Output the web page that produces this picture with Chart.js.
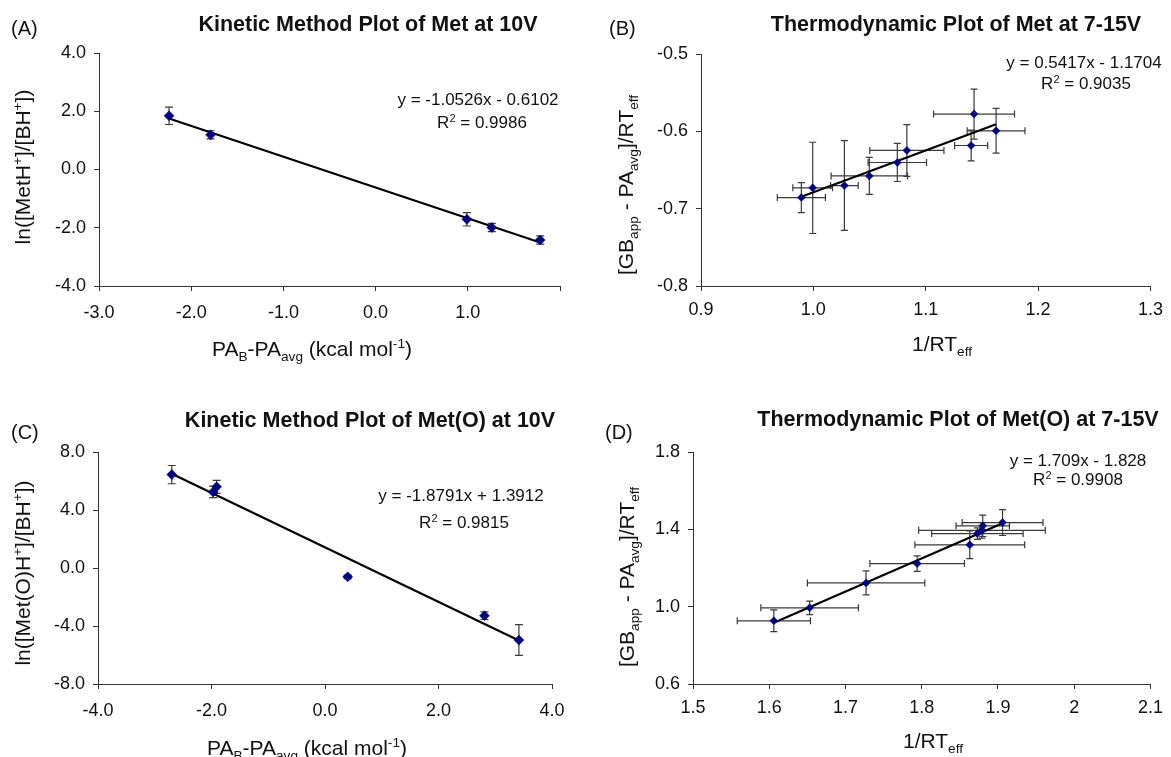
<!DOCTYPE html>
<html><head><meta charset="utf-8">
<script src="https://cdn.jsdelivr.net/npm/chart.js@4.4.1/dist/chart.umd.min.js"></script>
<style>
html,body{margin:0;padding:0;background:#fff;}
#wrap{position:relative;width:1171px;height:757px;overflow:hidden;}
.p{position:absolute;}
</style></head><body>
<div id="wrap">
<div class="p" style="left:0;top:0;width:590px;height:380px"><canvas id="cA"></canvas></div>
<div class="p" style="left:590px;top:0;width:581px;height:380px"><canvas id="cB"></canvas></div>
<div class="p" style="left:0;top:380px;width:590px;height:377px"><canvas id="cC"></canvas></div>
<div class="p" style="left:590px;top:380px;width:581px;height:377px"><canvas id="cD"></canvas></div>
</div>
<script>
// ---------- Panel A: Kinetic Method Plot of Met at 10V ----------
const aX    = [-2.24, -1.79, 0.99, 1.26, 1.785];
const aY    = [1.845, 1.19, -1.71, -1.99, -2.42];
const aYErr = [0.30, 0.14, 0.23, 0.14, 0.14];
const aXTickVals = [-3, -2, -1, 0, 1, 2];
const aXTickLabels = ['-3.0', '-2.0', '-1.0', '0.0', '1.0', ''];
const aYTickVals = [-4, -2, 0, 2, 4];
const aYTickLabels = ['-4.0', '-2.0', '0.0', '2.0', '4.0'];

// ---------- Panel B: Thermodynamic Plot of Met at 7-15V ----------
const bX    = [0.9893, 0.9994, 1.0276, 1.0498, 1.0747, 1.0832, 1.1404, 1.1430, 1.1626];
const bY    = [-0.6856, -0.6731, -0.6701, -0.6576, -0.6403, -0.6247, -0.6183, -0.5777, -0.5993];
const bXErr = [0.0214, 0.0177, 0.0123, 0.034, 0.026, 0.033, 0.0147, 0.036, 0.0257];
const bYErr = [0.0194, 0.059, 0.058, 0.024, 0.0246, 0.0335, 0.020, 0.0324, 0.029];
const bXTickVals = [0.9, 1.0, 1.1, 1.2, 1.3];
const bXTickLabels = ['0.9', '1.0', '1.1', '1.2', '1.3'];
const bYTickVals = [-0.8, -0.7, -0.6, -0.5];
const bYTickLabels = ['-0.8', '-0.7', '-0.6', '-0.5'];

// ---------- Panel C: Kinetic Method Plot of Met(O) at 10V ----------
const cX    = [-2.70, -1.97, -1.91, 0.40, 2.81, 3.417];
const cY    = [6.44, 5.25, 5.60, -0.61, -3.29, -4.97];
const cYErr = [0.63, 0.40, 0.45, 0.12, 0.26, 1.06];
const cXTickVals = [-4, -2, 0, 2, 4];
const cXTickLabels = ['-4.0', '-2.0', '0.0', '2.0', '4.0'];
const cYTickVals = [-8, -4, 0, 4, 8];
const cYTickLabels = ['-8.0', '-4.0', '0.0', '4.0', '8.0'];

// ---------- Panel D: Thermodynamic Plot of Met(O) at 7-15V ----------
const dX    = [1.606, 1.653, 1.727, 1.794, 1.863, 1.873, 1.879, 1.880, 1.906];
const dY    = [0.927, 0.994, 1.123, 1.223, 1.320, 1.378, 1.395, 1.418, 1.435];
const dXErr = [0.048, 0.064, 0.077, 0.062, 0.072, 0.060, 0.083, 0.035, 0.053];
const dYErr = [0.056, 0.035, 0.062, 0.040, 0.072, 0.030, 0.040, 0.055, 0.067];
const dXTickVals = [1.5, 1.6, 1.7, 1.8, 1.9, 2.0, 2.1];
const dXTickLabels = ['1.5', '1.6', '1.7', '1.8', '1.9', '2', '2.1'];
const dYTickVals = [0.6, 1.0, 1.4, 1.8];
const dYTickLabels = ['0.6', '1.0', '1.4', '1.8'];

const FAM = '"Liberation Sans", Arial, Helvetica, sans-serif';
const TXT = '#111';

function fitLine(xs, ys) {
  const n = xs.length;
  const mx = xs.reduce((a, b) => a + b, 0) / n;
  const my = ys.reduce((a, b) => a + b, 0) / n;
  let sxy = 0, sxx = 0;
  for (let i = 0; i < n; i++) { sxy += (xs[i] - mx) * (ys[i] - my); sxx += (xs[i] - mx) ** 2; }
  const m = sxy / sxx, b = my - m * mx;
  const x0 = Math.min(...xs), x1 = Math.max(...xs);
  return [{x: x0, y: m * x0 + b}, {x: x1, y: m * x1 + b}];
}

function drawRich(ctx, segs, cx, cy, size, opts) {
  opts = opts || {};
  const weight = opts.bold ? 'bold ' : '';
  ctx.save();
  ctx.translate(cx, cy);
  if (opts.rot) ctx.rotate(-Math.PI / 2);
  let w = 0;
  for (const s of segs) {
    ctx.font = weight + (s.s ? size * 0.65 : size) + 'px ' + FAM;
    w += ctx.measureText(s.t).width;
  }
  let x = opts.left ? 0 : -w / 2;
  ctx.textBaseline = 'alphabetic';
  ctx.textAlign = 'left';
  ctx.fillStyle = TXT;
  const base = size * 0.36;
  for (const s of segs) {
    ctx.font = weight + (s.s ? size * 0.65 : size) + 'px ' + FAM;
    const dy = s.s === 'sub' ? size * 0.28 : (s.s === 'sup' ? -size * 0.38 : 0);
    ctx.fillText(s.t, x, base + dy);
    x += ctx.measureText(s.t).width;
  }
  ctx.restore();
}

function makePanel(p) {
  const H = p.h;
  const xAxisH = 40;
  const plugin = {
    id: 'deco' + p.id,
    beforeDatasetsDraw(chart) {
      const ctx = chart.ctx, xs = chart.scales.x, ys = chart.scales.y;
      ctx.save();
      ctx.strokeStyle = '#3a3a3a';
      ctx.lineWidth = 1.2;
      const cap = p.cap;
      for (let i = 0; i < p.x.length; i++) {
        const px = xs.getPixelForValue(p.x[i]);
        const py = ys.getPixelForValue(p.y[i]);
        ctx.beginPath();
        if (p.yErr) {
          const y1 = ys.getPixelForValue(p.y[i] + p.yErr[i]);
          const y2 = ys.getPixelForValue(p.y[i] - p.yErr[i]);
          ctx.moveTo(px, y1); ctx.lineTo(px, y2);
          ctx.moveTo(px - cap, y1); ctx.lineTo(px + cap, y1);
          ctx.moveTo(px - cap, y2); ctx.lineTo(px + cap, y2);
        }
        if (p.xErr) {
          const x1 = xs.getPixelForValue(p.x[i] - p.xErr[i]);
          const x2 = xs.getPixelForValue(p.x[i] + p.xErr[i]);
          ctx.moveTo(x1, py); ctx.lineTo(x2, py);
          ctx.moveTo(x1, py - cap); ctx.lineTo(x1, py + cap);
          ctx.moveTo(x2, py - cap); ctx.lineTo(x2, py + cap);
        }
        ctx.stroke();
      }
      ctx.restore();
    },
    afterDraw(chart) {
      const ctx = chart.ctx;
      const t = p.text;
      drawRich(ctx, [{t: t.letter}], t.letterX, t.letterY, 20, {left: true});
      drawRich(ctx, [{t: t.title}], t.titleX, t.titleY, 21.5, {bold: true});
      drawRich(ctx, [{t: t.eq}], t.eqX, t.eqY, 17);
      drawRich(ctx, [{t: 'R'}, {t: '2', s: 'sup'}, {t: ' = ' + t.r2}], t.r2X, t.r2Y, 17);
      drawRich(ctx, t.yTitle, t.yTitleX, t.yTitleY, 21, {rot: true});
      drawRich(ctx, t.xTitle, t.xTitleX, t.xTitleY, 21);
    }
  };
  const axisCommon = (vals, labels, pad) => ({
    type: 'linear',
    min: vals[0], max: vals[vals.length - 1],
    afterBuildTicks: s => { s.ticks = vals.map(v => ({value: v})); },
    ticks: {
      callback: (v, i) => labels[i],
      font: {family: FAM, size: 18}, color: TXT,
      padding: pad, maxRotation: 0, autoSkip: false
    },
    grid: {display: true, drawOnChartArea: false, drawTicks: true, tickLength: 5, color: '#333', lineWidth: 1},
    border: {display: true, color: '#333', width: 1}
  });
  const xAxis = axisCommon(p.xTicks, p.xLabels, p.xPad);
  xAxis.afterFit = s => { s.height = xAxisH; };
  const yAxis = axisCommon(p.yTicks, p.yLabels, 8);
  yAxis.afterFit = s => { s.width = p.area.l; };
  return new Chart(document.getElementById(p.id), {
    type: 'scatter',
    data: {
      datasets: [
        {
          data: p.x.map((v, i) => ({x: v, y: p.y[i]})),
          pointStyle: 'rectRot', pointRadius: p.r, pointHoverRadius: p.r,
          backgroundColor: '#000080', borderColor: '#000080', borderWidth: 0.5,
          showLine: false, order: 0, clip: false
        },
        {
          data: fitLine(p.x, p.y),
          showLine: true, pointRadius: 0, borderColor: '#000', borderWidth: 2.2,
          order: 1, clip: false
        }
      ]
    },
    options: {
      responsive: true, maintainAspectRatio: false, animation: false, events: [],
      layout: {padding: {left: 0, top: p.area.t, right: p.w - p.area.r, bottom: H - p.area.b - xAxisH}},
      plugins: {legend: {display: false}, tooltip: {enabled: false}, title: {display: false}},
      scales: {x: xAxis, y: yAxis}
    },
    plugins: [plugin]
  });
}

const kinX = [{t: 'PA'}, {t: 'B', s: 'sub'}, {t: '-PA'}, {t: 'avg', s: 'sub'}, {t: ' (kcal mol'}, {t: '-1', s: 'sup'}, {t: ')'}];
const thermoY = [{t: '[GB'}, {t: 'app', s: 'sub'}, {t: ' - PA'}, {t: 'avg', s: 'sub'}, {t: ']/RT'}, {t: 'eff', s: 'sub'}];
const thermoX = [{t: '1/RT'}, {t: 'eff', s: 'sub'}];

makePanel({
  id: 'cA', w: 590, h: 380, area: {l: 99, r: 560, t: 53, b: 286}, xPad: 11, r: 5, cap: 4,
  x: aX, y: aY, yErr: aYErr, xErr: null,
  xTicks: aXTickVals, xLabels: aXTickLabels, yTicks: aYTickVals, yLabels: aYTickLabels,
  text: {
    letter: '(A)', letterX: 11, letterY: 28,
    title: 'Kinetic Method Plot of Met at 10V', titleX: 368, titleY: 23,
    eq: 'y = -1.0526x - 0.6102', eqX: 478, eqY: 99, r2: '0.9986', r2X: 482, r2Y: 122,
    yTitle: [{t: 'ln([MetH'}, {t: '+', s: 'sup'}, {t: ']/[BH'}, {t: '+', s: 'sup'}, {t: '])'}], yTitleX: 22, yTitleY: 167,
    xTitle: kinX, xTitleX: 312, xTitleY: 348
  }
});

makePanel({
  id: 'cB', w: 581, h: 380, area: {l: 111, r: 564, t: 54, b: 286}, xPad: 8, r: 4, cap: 3.5,
  x: bX, y: bY, yErr: bYErr, xErr: bXErr,
  xTicks: bXTickVals, xLabels: bXTickLabels, yTicks: bYTickVals, yLabels: bYTickLabels,
  text: {
    letter: '(B)', letterX: 19, letterY: 28,
    title: 'Thermodynamic Plot of Met at 7-15V', titleX: 366, titleY: 23,
    eq: 'y = 0.5417x - 1.1704', eqX: 494, eqY: 62, r2: '0.9035', r2X: 496, r2Y: 83,
    yTitle: thermoY, yTitleX: 35, yTitleY: 185,
    xTitle: thermoX, xTitleX: 352, xTitleY: 343
  }
});

makePanel({
  id: 'cC', w: 590, h: 377, area: {l: 98, r: 552, t: 72, b: 304}, xPad: 11, r: 5, cap: 4,
  x: cX, y: cY, yErr: cYErr, xErr: null,
  xTicks: cXTickVals, xLabels: cXTickLabels, yTicks: cYTickVals, yLabels: cYTickLabels,
  text: {
    letter: '(C)', letterX: 11, letterY: 52,
    title: 'Kinetic Method Plot of Met(O) at 10V', titleX: 370, titleY: 39,
    eq: 'y = -1.8791x + 1.3912', eqX: 461, eqY: 115, r2: '0.9815', r2X: 464, r2Y: 142,
    yTitle: [{t: 'ln([Met(O)H'}, {t: '+', s: 'sup'}, {t: ']/[BH'}, {t: '+', s: 'sup'}, {t: '])'}], yTitleX: 22, yTitleY: 193,
    xTitle: kinX, xTitleX: 307, xTitleY: 367
  }
});

makePanel({
  id: 'cD', w: 581, h: 377, area: {l: 103, r: 564, t: 72, b: 304}, xPad: 8, r: 4, cap: 3.5,
  x: dX, y: dY, yErr: dYErr, xErr: dXErr,
  xTicks: dXTickVals, xLabels: dXTickLabels, yTicks: dYTickVals, yLabels: dYTickLabels,
  text: {
    letter: '(D)', letterX: 15, letterY: 52,
    title: 'Thermodynamic Plot of Met(O) at 7-15V', titleX: 368, titleY: 38,
    eq: 'y = 1.709x - 1.828', eqX: 488, eqY: 80, r2: '0.9908', r2X: 488, r2Y: 99,
    yTitle: thermoY, yTitleX: 36, yTitleY: 197,
    xTitle: thermoX, xTitleX: 343, xTitleY: 360
  }
});
</script>
</body></html>
